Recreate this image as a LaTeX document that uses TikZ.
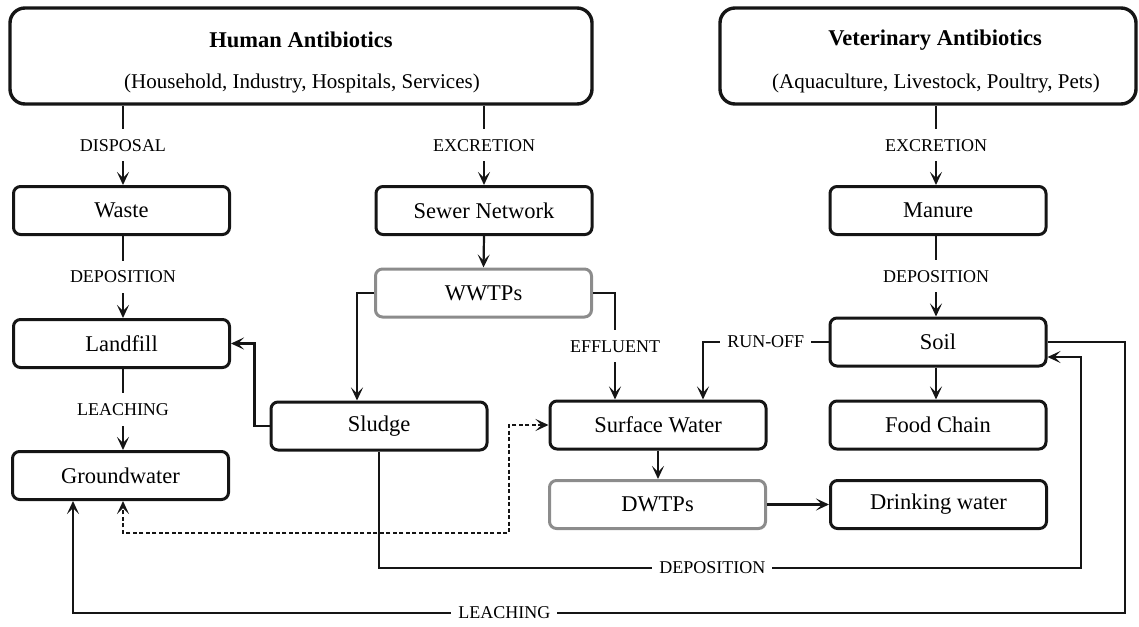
\documentclass[tikz,border=0pt]{standalone}
\usepackage{fontspec}
\setmainfont{Liberation Serif}
\usetikzlibrary{arrows.meta,calc}
\definecolor{ink}{HTML}{151515}
\definecolor{greyline}{HTML}{8C8C8C}
\tikzset{
  box/.style={draw=ink, line width=3pt, rounded corners=7pt, minimum width=216pt, minimum height=48pt, inner sep=0pt, font=\fontsize{22.5}{24}\selectfont},
  greybox/.style={box, draw=greyline},
  bigbox/.style={draw=ink, line width=3.4pt, rounded corners=15pt, inner sep=0pt},
  ttl/.style={font=\fontsize{22.5}{26}\selectfont\bfseries, inner sep=0pt},
  sub/.style={font=\fontsize{21}{24}\selectfont, inner sep=0pt},
  lbl/.style={fill=white, font=\fontsize{18}{20}\selectfont, inner xsep=7pt, inner ysep=10pt},
  tip/.style={},
  arr/.style={draw=ink, line width=2.2pt, -{Stealth[length=13pt,width=12pt,inset=6pt]}},
  darr/.style={draw=ink, line width=2.2pt, dash pattern=on 4pt off 2.5pt, {Stealth[length=13pt,width=12pt,inset=6pt]}-{Stealth[length=13pt,width=12pt,inset=6pt]}}
}
\begin{document}
\begin{tikzpicture}[x=1pt,y=-1pt]
\useasboundingbox (0,0) rectangle (1139,626);
% big boxes
\node[bigbox, minimum width=582pt, minimum height=96pt] (hum) at (301,56) {};
\node[ttl] (humT) at (301,40) {Human Antibiotics};
\node[sub] (humS) at (302,83) {(Household, Industry, Hospitals, Services)};
\node[bigbox, minimum width=416pt, minimum height=96pt] (vet) at (928,56) {};
\node[ttl] (vetT) at (935,40) {Veterinary Antibiotics};
\node[sub] (vetS) at (936,83) {(Aquaculture, Livestock, Poultry, Pets)};
% small boxes
\node[box] (waste) at (121.5,210.5) {Waste};
\node[box] (landfill) at (121.5,343.5) {Landfill};
\node[box] (gw) at (120.5,475.5) {Groundwater};
\node[box] (sewer) at (484,210.5) {Sewer Network};
\node[greybox] (wwtp) at (483.5,293) {WWTPs};
\node[box] (sludge) at (379,426) {Sludge};
\node[box] (sw) at (658,425) {Surface Water};
\node[greybox] (dwtp) at (657.5,504.5) {DWTPs};
\node[box] (manure) at (938,210.5) {Manure};
\node[box] (soil) at (938,342) {Soil};
\node[box] (food) at (938,425) {Food Chain};
\node[box] (drink) at (938.5,504.5) {Drinking water};
% helper coordinates
\coordinate (dk) at (509,533);
\coordinate (dp) at (1081,568);
\coordinate (lk) at (1125,613);
% connectors
\draw[arr] ([xshift=1.5pt]waste.north |- hum.south) -- node[lbl]{DISPOSAL} ([xshift=1.5pt]waste.north);
\draw[arr] (sewer.north |- hum.south) -- node[lbl]{EXCRETION} (sewer.north);
\draw[arr] ([xshift=-2pt]manure.north |- vet.south) -- node[lbl]{EXCRETION} ([xshift=-2pt]manure.north);
\draw[arr] ([xshift=1.5pt]waste.south) -- node[lbl]{DEPOSITION} ([xshift=1.5pt]landfill.north);
\draw[arr] ([xshift=-2pt]manure.south) -- node[lbl]{DEPOSITION} ([xshift=-2pt]soil.north);
\draw[arr] ([xshift=1.5pt]landfill.south) -- node[lbl]{LEACHING} ([xshift=2.5pt]gw.north);
\draw[arr] (sewer.south) -- (wwtp.north);
\draw[arr] (wwtp.west) -| ([xshift=-22pt]sludge.north);
\draw[arr] (wwtp.east) -| node[lbl,pos=0.75]{EFFLUENT} ([xshift=-43pt]sw.north);
\draw[arr] (soil.west) -| node[lbl,pos=0.25]{RUN-OFF} ([xshift=45pt]sw.north);
\draw[arr] ([xshift=-2pt]soil.south) -- ([xshift=-2pt]food.north);
\draw[arr] (sw.south) -- (sw.south |- dwtp.north);
\draw[arr] (dwtp.east) -- (drink.west);
\draw[arr] (sludge.west) -- ++(-15,0) |- (landfill.east);
\draw[darr] (sw.west) -| (dk) -| ([xshift=2.5pt]gw.south);
\draw[arr] (sludge.south) |- node[lbl,pos=0.7375]{DEPOSITION} (dp) |- ([yshift=-15pt]soil.east);
\draw[arr] (soil.east) -| (lk) -| node[lbl,pos=0.295]{LEACHING} ([xshift=-47.5pt]gw.south);
\end{tikzpicture}
\end{document}
